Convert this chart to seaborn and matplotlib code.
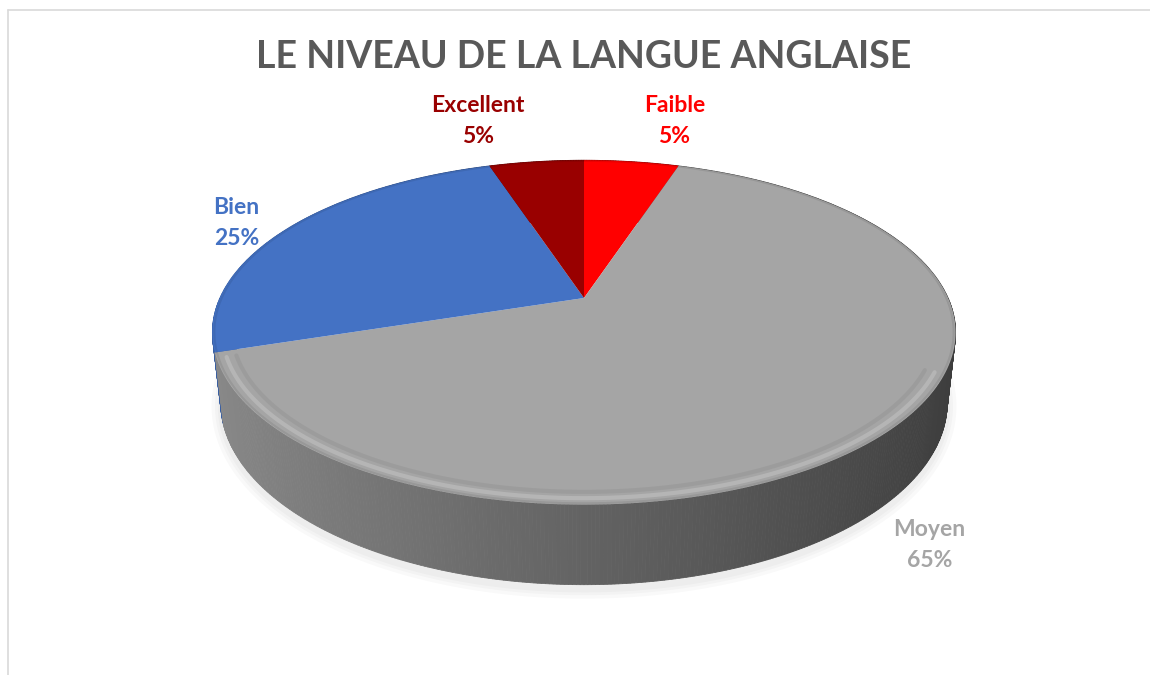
import numpy as np
import matplotlib
matplotlib.use("Agg")
import matplotlib.pyplot as plt
import seaborn as sb

# data
levels = ["Faible", "Moyen", "Bien", "Excellent"]
percents = [5, 65, 25, 5]
colors = ["#FF0000", "#A5A5A5", "#4472C4", "#990000"]
title = "LE NIVEAU DE LA LANGUE ANGLAISE"

# 3d view of the disk (tilt, camera distance, focal length, thickness)
phi = np.radians(27)
dist = 4.455
focal = 1622
thick = 0.217
cx, cy = 584, 298  # centre of pie in pixels


def proj(x, y, z):
    depth = dist + y * np.cos(phi) - z * np.sin(phi)
    up = y * np.sin(phi) + z * np.cos(phi)
    return focal * x / depth, focal * up / depth


def point(theta, r=1.0, z=0.0):
    # theta in degrees, clockwise from 12 o'clock (far side)
    t = np.radians(theta)
    return proj(r * np.sin(t), r * np.cos(t), z)


def shade(color, f):
    rgb = np.array(matplotlib.colors.to_rgb(color))
    return tuple(np.clip(rgb * f, 0, 1))


sb.set_theme(style="white")
plt.rcParams["font.family"] = ["Lato", "DejaVu Sans"]

fig = plt.figure(figsize=(11.5, 6.75), dpi=100)
ax = fig.add_axes([0, 0, 1, 1])
ax.set_xlim(-cx, 1150 - cx)
ax.set_ylim(-(675 - cy), cy)
ax.axis("off")

# chart frame
fig.add_artist(plt.Line2D([8 / 1150, 8 / 1150], [0, 1 - 10 / 675], color="#d9d9d9", lw=1.2))
fig.add_artist(plt.Line2D([8 / 1150, 1], [1 - 10 / 675, 1 - 10 / 675], color="#d9d9d9", lw=1.2))

bounds = np.concatenate([[0], np.cumsum(percents)]) * 3.6

# faint shadow band under the bottom rim
th = np.linspace(70, 270, 300)
for k, w in enumerate([14, 9, 5]):
    xs, ys = point(th, 1.0, -thick - 0.012)
    ax.plot(xs, ys, color="black", alpha=0.025, lw=w, zorder=1,
            solid_capstyle="round")

# side of the pie, thin strips drawn from back to front
strips = []
edges = np.linspace(0, 360, 721)
for t1, t2 in zip(edges[:-1], edges[1:]):
    tm = 0.5 * (t1 + t2)
    idx = np.searchsorted(bounds, tm) - 1
    f = 0.6 - 0.24 * np.sin(np.radians(tm))
    depth = np.cos(np.radians(tm))
    strips.append((depth, t1, t2, shade(colors[idx], f)))
strips.sort(key=lambda s: -s[0])
for _, t1, t2, col in strips:
    xa, ya = point(np.array([t1, t2]))
    xb, yb = point(np.array([t2, t1]), z=-thick)
    ax.fill(np.concatenate([xa, xb]), np.concatenate([ya, yb]), color=col,
            lw=0.6, ec=col, zorder=2)

# top face
for i, (lvl, col) in enumerate(zip(levels, colors)):
    th = np.linspace(bounds[i], bounds[i + 1], 200)
    xs, ys = point(th)
    ax.fill(np.concatenate([[0], xs]), np.concatenate([[0], ys]), color=col,
            lw=0, zorder=3)

# bevel on the rim: soft dark edge and light highlight at the front
th = np.linspace(0, 360, 600)
xs, ys = point(th, 0.995)
ax.plot(xs, ys, color="black", alpha=0.08, lw=1.5, zorder=4)
th = np.linspace(115, 250, 400)
xs, ys = point(th, 0.975)
ax.plot(xs, ys, color="white", alpha=0.18, lw=3, zorder=4)
xs, ys = point(th, 0.95)
ax.plot(xs, ys, color="black", alpha=0.05, lw=3, zorder=4)

# data labels
label_pos = {
    "Faible": (1.32, 0.0, "left", "center"),
    "Moyen": (1.05, -thick, "left", "top"),
    "Bien": (1.1, 0.0, "right", "center"),
    "Excellent": (1.32, 0.0, "right", "center"),
}
for i, (lvl, pct, col) in enumerate(zip(levels, percents, colors)):
    mid = 0.5 * (bounds[i] + bounds[i + 1])
    r, z, ha, va = label_pos[lvl]
    lx, ly = point(mid, r, z)
    if lvl in ("Faible", "Excellent"):
        ly += 6
    ax.text(lx, ly, f"{lvl}\n{pct}%", color=col, fontsize=16.5, fontweight="bold",
            ha=ha, va=va, multialignment="center", linespacing=1.6, zorder=5)

ax.text(0, cy - 57, title, color="#595959", fontsize=27, fontweight="bold",
        ha="center", va="center")

fig.savefig("out.png", dpi=100)
